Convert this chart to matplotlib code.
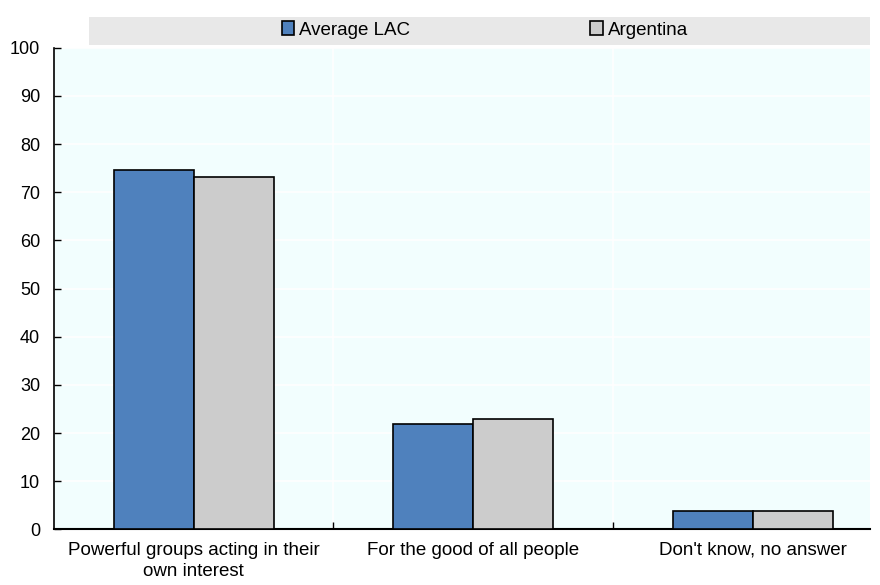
import matplotlib
matplotlib.use("Agg")
import matplotlib.pyplot as plt
from matplotlib.patches import Rectangle
import numpy as np

plt.rcParams['font.family'] = ['Liberation Sans', 'DejaVu Sans']

categories = ["Powerful groups acting in their\nown interest",
              "For the good of all people",
              "Don't know, no answer"]
series_names = ["Average LAC", "Argentina"]
lac = [74.7, 21.8, 3.9]
argentina = [73.1, 23.0, 3.9]

blue = '#4F81BD'
grey = '#CCCCCC'

fig = plt.figure(figsize=(8.8, 5.85), dpi=100)
ax = fig.add_axes([54 / 880, 0.0952, (870 - 54) / 880, 0.823])
ax.set_facecolor('#F2FEFE')

x = np.arange(len(categories))
width = 0.286
ax.bar(x - width / 2, lac, width, color=blue, edgecolor='black', linewidth=1.2,
       label=series_names[0], zorder=3)
ax.bar(x + width / 2, argentina, width, color=grey, edgecolor='black', linewidth=1.2,
       label=series_names[1], zorder=3)

ax.set_xlim(-0.5, 2.42)
ax.set_ylim(0, 100)
ax.set_yticks(np.arange(0, 101, 10))

# white grid lines, horizontal plus separators between categories
ax.yaxis.grid(True, color='white', linewidth=1.2, zorder=0)
for sep in x[:-1] + 0.5:
    ax.axvline(sep, color='white', linewidth=1.2, zorder=0)

ax.set_xticks(x[:-1] + 0.5)
ax.set_xticklabels([])
ax.tick_params(axis='x', direction='in', length=5, width=1, color='black')
for xi, lab in zip(x, categories):
    ax.text(xi, -2.6, lab, ha='center', va='top', fontsize=13.5, linespacing=1.3)

ax.tick_params(axis='y', direction='in', length=5, width=1, labelsize=13, pad=10)

for side in ['top', 'right']:
    ax.spines[side].set_visible(False)
ax.spines['left'].set_linewidth(1.2)
ax.spines['bottom'].set_linewidth(1.5)

# legend band above the plot
fig.patches.append(Rectangle((89 / 880, 1 - 45 / 585), (870 - 89) / 880, 28 / 585,
                             transform=fig.transFigure, facecolor='#E8E8E8',
                             edgecolor='none', zorder=0))
fig.legend(loc='center', bbox_to_anchor=(485 / 880, 1 - 30 / 585), ncol=2,
           frameon=False, fontsize=13.5, handlelength=0.65, handleheight=0.7,
           handletextpad=0.3, columnspacing=9.6, borderpad=0)

fig.savefig('out.png', dpi=100)
